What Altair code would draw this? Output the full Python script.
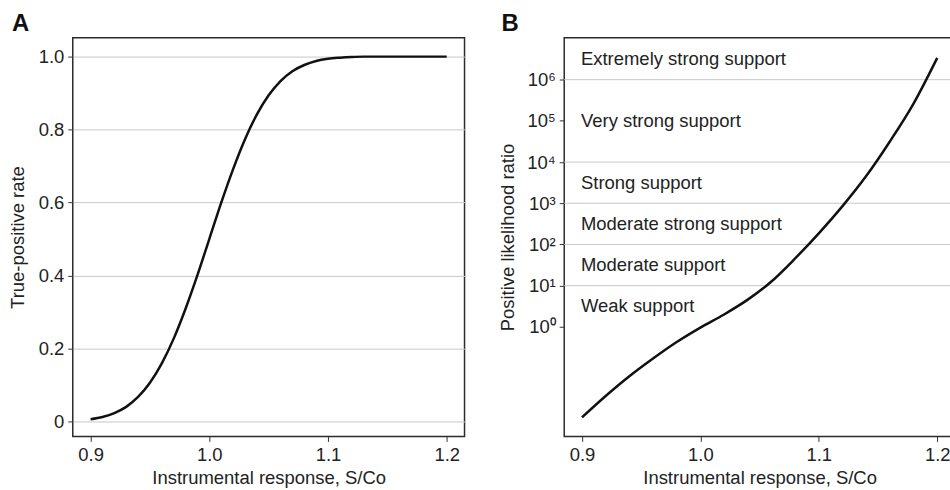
import altair as alt
import pandas as pd

# ---- Panel A: true-positive rate vs instrumental response ----
x_a = [0.90, 0.91, 0.92, 0.93, 0.94, 0.95, 0.96, 0.97, 0.98, 0.99, 1.00,
       1.01, 1.02, 1.03, 1.04, 1.05, 1.06, 1.07, 1.08, 1.09, 1.10,
       1.11, 1.12, 1.13, 1.14, 1.15, 1.16, 1.17, 1.18, 1.19, 1.20]
tpr = [0.006, 0.012, 0.023, 0.040, 0.067, 0.106, 0.159, 0.227, 0.309, 0.401, 0.500,
       0.599, 0.691, 0.773, 0.841, 0.894, 0.933, 0.960, 0.977, 0.988, 0.994,
       0.997, 0.999, 1.0, 1.0, 1.0, 1.0, 1.0, 1.0, 1.0, 1.0]

# ---- Panel B: positive likelihood ratio (log10) vs instrumental response ----
x_b = [0.90, 0.92, 0.94, 0.96, 0.98, 1.00, 1.02, 1.04, 1.06, 1.08, 1.10,
       1.12, 1.14, 1.16, 1.18, 1.20]
log10_plr = [-2.20, -1.68, -1.20, -0.77, -0.37, -0.02, 0.30, 0.66, 1.10, 1.66, 2.27,
             2.93, 3.66, 4.50, 5.42, 6.53]

x_ticks = [0.9, 1.0, 1.1, 1.2]
y_ticks_a = [0, 0.2, 0.4, 0.6, 0.8, 1.0]
y_ticks_b = [1, 10, 100, 1000, 10000, 100000, 1000000]

support_labels = ["Weak support", "Moderate support", "Moderate strong support",
                  "Strong support", "Very strong support", "Extremely strong support"]
support_lo = [1, 10, 100, 1e3, 1e4, 1e6]
support_hi = [10, 100, 1e3, 1e4, 1e6, 1e7]
thresholds = [10, 100, 1e3, 1e4, 1e6]

df_a = pd.DataFrame({"x": x_a, "y": tpr})
df_b = pd.DataFrame({"x": x_b, "y": [10 ** v for v in log10_plr]})
df_grid = pd.DataFrame({"y": thresholds})
df_lab = pd.DataFrame({
    "x": [x_ticks[0]] * len(support_labels),
    "y": [(lo * hi) ** 0.5 for lo, hi in zip(support_lo, support_hi)],
    "label": support_labels,
})

FONT = "Liberation Sans"
TXT = "#222222"
FS = 18.5
x_dom = [0.885, 1.215]

x_axis = alt.Axis(values=x_ticks, format=".1f", grid=False, title="Instrumental response, S/Co",
                  titlePadding=5)

panel_a = alt.Chart(df_a).mark_line(color="#111111", strokeWidth=2.5, interpolate="monotone").encode(
    x=alt.X("x:Q", scale=alt.Scale(domain=x_dom, nice=False, zero=False), axis=x_axis),
    y=alt.Y("y:Q", scale=alt.Scale(domain=[-0.041, 1.052], nice=False, zero=False),
            axis=alt.Axis(values=y_ticks_a, grid=True, title="True-positive rate", titlePadding=11,
                          labelExpr="datum.value == 0 ? '0' : format(datum.value, '.1f')")),
).properties(
    width=393, height=400,
    title=alt.TitleParams("A", anchor="start", frame="group", dx=-61, offset=2,
                          fontSize=24, fontWeight="bold", font=FONT, color="#111111"),
)

y_b = alt.Y("y:Q", scale=alt.Scale(type="log", domain=[10 ** -2.66, 10 ** 7.02], nice=False),
            axis=alt.Axis(values=y_ticks_b, grid=False, title="Positive likelihood ratio", titlePadding=9,
                          labelExpr="'10' + ['\u2070','\u00b9','\u00b2','\u00b3','\u2074','\u2075','\u2076'][round(log(datum.value)/LN10)]"))
x_b_enc = alt.X("x:Q", scale=alt.Scale(domain=x_dom, nice=False, zero=False), axis=x_axis)

grid_b = alt.Chart(df_grid).mark_rule(color="#c8c8c8", strokeWidth=1).encode(y=y_b)
line_b = alt.Chart(df_b).mark_line(color="#111111", strokeWidth=2.5, interpolate="monotone").encode(
    x=x_b_enc, y=y_b)
text_b = alt.Chart(df_lab).mark_text(align="left", baseline="middle", dx=-1, fontSize=FS,
                                     font=FONT, color=TXT).encode(
    x=x_b_enc, y=y_b, text="label:N")

panel_b = alt.layer(grid_b, line_b, text_b).properties(
    width=392, height=400,
    title=alt.TitleParams("B", anchor="start", frame="group", dx=-63, offset=2,
                          fontSize=24, fontWeight="bold", font=FONT, color="#111111"),
)

chart = alt.hconcat(panel_a, panel_b, spacing=32).properties(
    padding={"left": 7, "top": 10, "right": -7, "bottom": 0},
    background="white",
).configure(font=FONT).configure_axis(
    labelFont=FONT, titleFont=FONT, labelFontSize=FS, titleFontSize=FS,
    titleFontWeight="normal", labelColor=TXT, titleColor=TXT,
    tickColor="#333333", tickSize=5, tickWidth=1, labelPadding=4,
    domain=False, gridColor="#c8c8c8", gridWidth=1,
).configure_view(stroke="#2b2b2b", strokeWidth=1.5)

chart.save("out.html", embed_options={"renderer": "svg", "actions": False})
